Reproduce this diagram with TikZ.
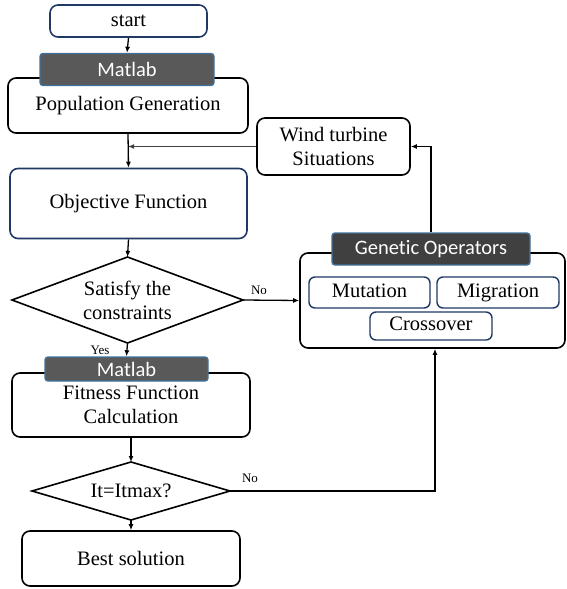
\documentclass[tikz,border=0pt]{standalone}
\usepackage{fontspec}
\setmainfont{Liberation Serif}
\newfontfamily\tabfont[Ligatures={NoCommon}]{Carlito}
\usetikzlibrary{shapes.geometric,arrows.meta}
\definecolor{navy}{HTML}{1F3864}
\definecolor{tabblue}{HTML}{41719C}
\definecolor{tabgray}{HTML}{595959}
\definecolor{tabdark}{HTML}{404040}
\tikzset{
  box/.style={draw=black, line width=1.6pt, rounded corners=8pt, inner sep=0pt, align=center, font=\fontsize{20.5}{24}\selectfont},
  navybox/.style={box, draw=navy},
  opbox/.style={navybox, rounded corners=6pt, line width=1.4pt, text height=13.5pt, text depth=4.5pt},
  tabbox/.style={draw=tabblue, line width=1.4pt, rounded corners=3pt, inner sep=0pt, text=white, font=\tabfont\fontsize{20.5}{24}\selectfont},
  dia/.style={diamond, draw=black, line width=1.6pt, inner sep=0pt, outer sep=0pt, align=center, font=\fontsize{20.5}{24}\selectfont},
  conn/.style={line width=1.3pt, -{Latex[length=6pt,width=5pt]}},
  lab/.style={font=\fontsize{13}{15}\selectfont, inner sep=0pt}
}
\begin{document}
\begin{tikzpicture}[x=1pt,y=-1pt]
\useasboundingbox (0,0) rectangle (567,589);
% left column
\node[navybox, minimum width=157pt, minimum height=32pt] (start) at (128.5,21) {start};
\node[box, minimum width=240pt, minimum height=55pt] (pop) at (128,105.5) {\raisebox{-3pt}{Population Generation}};
\node[tabbox, fill=tabgray, minimum width=174pt, minimum height=32pt] (tab1) at (127,69.5) {Matlab};
\node[navybox, minimum width=237pt, minimum height=70pt] (obj) at (128.5,203.5) {Objective Function};
\node[dia, aspect=2.69, minimum width=231pt, minimum height=86pt] (d1) at (127.5,300) {Satisfy the\\constraints};
\node[box, minimum width=238pt, minimum height=64pt] (fit) at (131,405) {Fitness Function\\Calculation};
\node[tabbox, fill=tabgray, minimum width=163pt, minimum height=24pt] (tab2) at (126.5,369) {Matlab};
\node[dia, aspect=3.4, minimum width=198pt, minimum height=58pt] (d2) at (131,491) {It=Itmax?};
\node[box, minimum width=218pt, minimum height=55pt] (best) at (131,558.5) {Best solution};
% right column
\node[box, minimum width=153pt, minimum height=57pt] (wind) at (333.5,146.5) {Wind turbine\\Situations};
\node[box, minimum width=265pt, minimum height=95pt] (go) at (432.5,300.5) {};
\node[tabbox, fill=tabdark, minimum width=198pt, minimum height=32pt] (gotab) at (431,249) {Genetic Operators};
\node[opbox, minimum width=121pt, minimum height=31pt] (mut) at (369.5,292.5) {Mutation};
\node[opbox, minimum width=122pt, minimum height=31pt] (mig) at (498,292.5) {Migration};
\node[opbox, minimum width=122pt, minimum height=28pt] (cross) at (431,326) {Crossover};
% connectors
\draw[conn] (start.south) -- (tab1.north);
\draw[conn] (pop.south) -- (obj.north);
\draw[conn, draw=black!75, fill=black!75] (wind.west) -- (pop.south |- wind.west);
\draw[conn] (obj.south) -- (d1.north);
\draw[conn] (d1.south) -- (tab2.north);
\node[lab] (yes) at (100,350) {Yes};
\draw[conn] (d1.east) -- (go.west);
\node[lab] (no1) at (259,290) {No};
\draw[conn] (fit.south) -- (d2.north);
\draw[conn] (d2.south) -- (best.north);
\coordinate (c2) at (435,491);
\draw[conn] (d2.east) -- (c2) -- (c2 |- go.south);
\node[lab] (no2) at (250,478) {No};
\draw[conn] (gotab.north) |- (wind.east);
\end{tikzpicture}
\end{document}
